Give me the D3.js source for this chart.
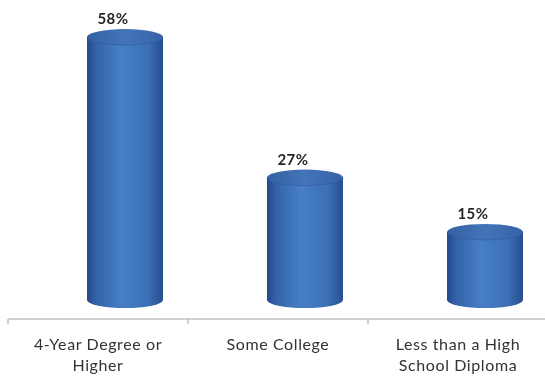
<!DOCTYPE html>
<html>
<head>
<meta charset="utf-8">
<script src="https://cdn.jsdelivr.net/npm/d3@7"></script>
<style>
  html, body { margin: 0; padding: 0; background: #ffffff; }
  svg { display: block; }
</style>
</head>
<body>
<svg id="chart" width="545" height="377"></svg>
<script>
// Share of people by education level
const categories = ["4-Year Degree or Higher", "Some College", "Less than a High School Diploma"];
const labelLines = [["4-Year Degree or", "Higher"], ["Some College"], ["Less than a High", "School Diploma"]];
const values = [58, 27, 15];
const valueLabels = ["58%", "27%", "15%"];

const svg = d3.select("#chart");
const W = 545, H = 377;

const x = d3.scaleBand().domain(categories).range([8, 548]).paddingInner(0).paddingOuter(0);
const y = d3.scaleLinear().domain([0, 60]).range([300, 28]);

const barW = 76, ry = 8, depthShift = 27;

const defs = svg.append("defs");
const sideGrad = defs.append("linearGradient").attr("id", "cylSide")
  .attr("x1", "0%").attr("x2", "100%").attr("y1", "0%").attr("y2", "0%");
sideGrad.append("stop").attr("offset", "0%").attr("stop-color", "#24498a");
sideGrad.append("stop").attr("offset", "12%").attr("stop-color", "#3463a8");
sideGrad.append("stop").attr("offset", "45%").attr("stop-color", "#467fc6");
sideGrad.append("stop").attr("offset", "80%").attr("stop-color", "#3c6fb5");
sideGrad.append("stop").attr("offset", "100%").attr("stop-color", "#264f8f");

const topGrad = defs.append("linearGradient").attr("id", "cylTop")
  .attr("x1", "0%").attr("x2", "100%").attr("y1", "0%").attr("y2", "0%");
topGrad.append("stop").attr("offset", "0%").attr("stop-color", "#3361a3");
topGrad.append("stop").attr("offset", "50%").attr("stop-color", "#4474b8");
topGrad.append("stop").attr("offset", "100%").attr("stop-color", "#3563a6");

const blur = defs.append("filter").attr("id", "soft").attr("x", "-10%").attr("y", "-10%").attr("width", "120%").attr("height", "120%");
blur.append("feGaussianBlur").attr("stdDeviation", 0.6);

// Category axis
const axisG = svg.append("g").attr("transform", `translate(0,${319})`);
axisG.append("line").attr("x1", 8).attr("x2", W).attr("y1", 0).attr("y2", 0)
  .attr("stroke", "#a6a6a6").attr("stroke-width", 1.2);
const tickPos = categories.map(c => x(c)).concat([x.range()[1]]);
axisG.selectAll("line.tick").data(tickPos).join("line").attr("class", "tick")
  .attr("x1", d => d).attr("x2", d => d).attr("y1", 0).attr("y2", 5)
  .attr("stroke", "#a6a6a6").attr("stroke-width", 1);

// Cylinders
const bars = svg.append("g").attr("filter", "url(#soft)");
categories.forEach((c, i) => {
  const cx = x(c) + x.bandwidth() / 2 + depthShift;
  const y0 = y(0), y1 = y(values[i]);
  const l = cx - barW / 2, r = cx + barW / 2;
  const g = bars.append("g");
  g.append("path")
    .attr("d", `M${l},${y1} L${l},${y0} A${barW / 2},${ry} 0 0 0 ${r},${y0} L${r},${y1} Z`)
    .attr("fill", "url(#cylSide)");
  g.append("ellipse").attr("cx", cx).attr("cy", y1).attr("rx", barW / 2).attr("ry", ry)
    .attr("fill", "url(#cylTop)");
  g.append("path")
    .attr("d", `M${l},${y1} A${barW / 2},${ry} 0 0 0 ${r},${y1}`)
    .attr("fill", "none").attr("stroke", "#2e5a9c").attr("stroke-width", 0.8).attr("opacity", 0.7);
});

// Value labels
svg.append("g").selectAll("text").data(categories).join("text")
  .attr("x", (c) => x(c) + x.bandwidth() / 2 + depthShift - 12)
  .attr("y", (c, i) => y(values[i]) - ry - 5)
  .attr("text-anchor", "middle")
  .attr("font-family", "Lato, 'Open Sans', sans-serif")
  .attr("font-weight", "bold").attr("font-size", 15).attr("letter-spacing", 0.5).attr("fill", "#262626")
  .text((c, i) => valueLabels[i]);

// Category labels
const catG = svg.append("g");
categories.forEach((c, i) => {
  const t = catG.append("text")
    .attr("x", x(c) + x.bandwidth() / 2)
    .attr("y", 350)
    .attr("text-anchor", "middle")
    .attr("font-family", "Lato, 'Open Sans', sans-serif")
    .attr("font-size", 16).attr("letter-spacing", 0.6).attr("fill", "#333333");
  labelLines[i].forEach((line, k) => {
    t.append("tspan").attr("x", x(c) + x.bandwidth() / 2).attr("dy", k === 0 ? 0 : 21).text(line);
  });
});
</script>
</body>
</html>
